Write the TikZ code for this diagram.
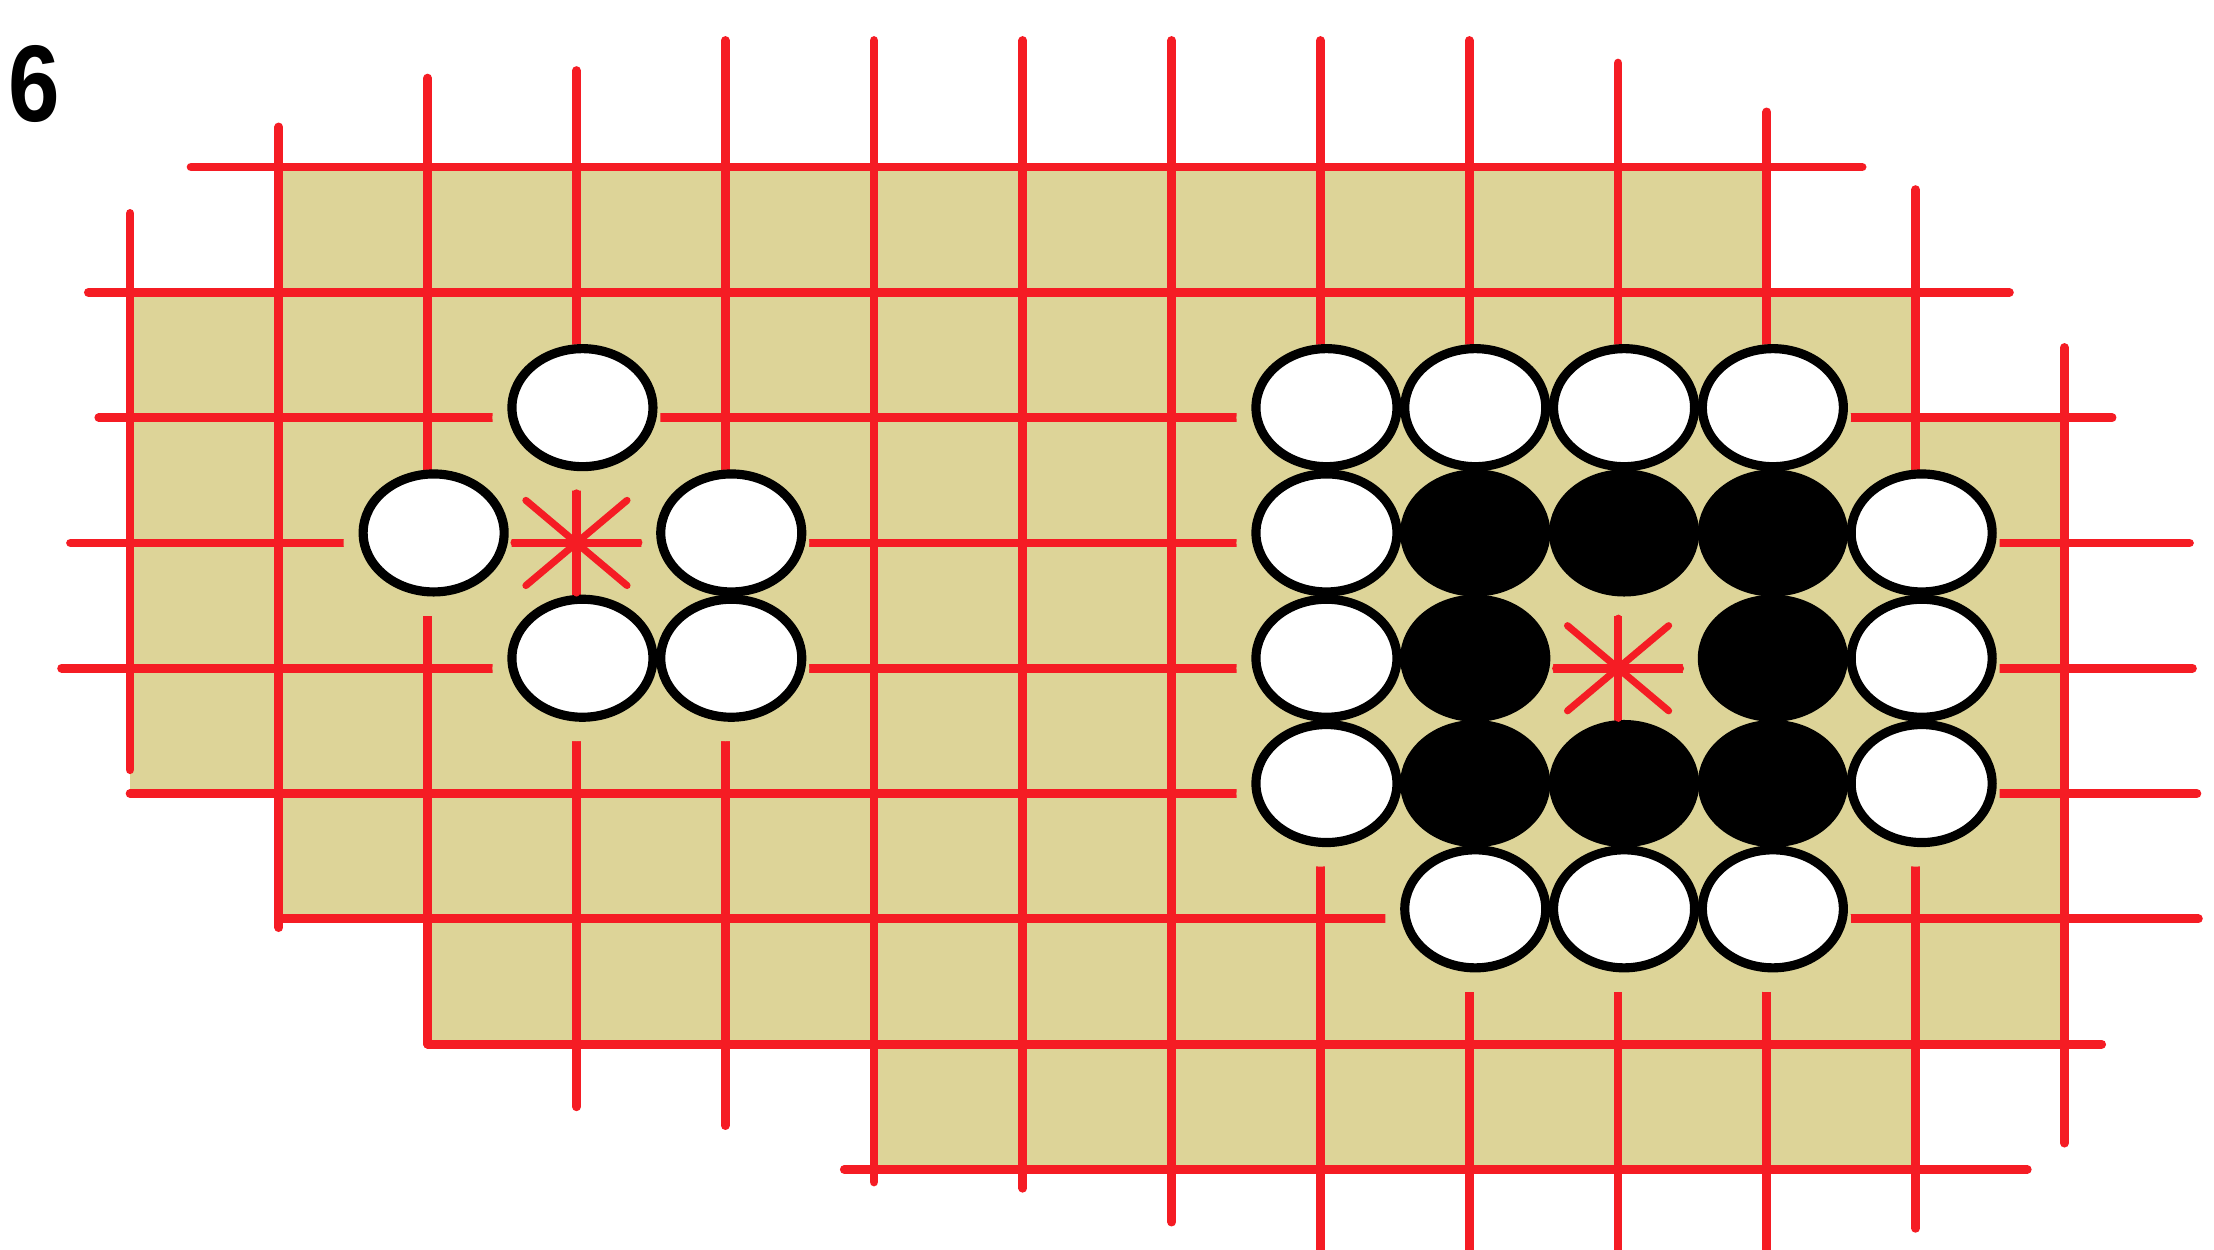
\documentclass[tikz,border=0pt]{standalone}
\usepackage{fontspec}
\setsansfont{Liberation Sans}
\usetikzlibrary{shapes.geometric}

\definecolor{boardtan}{RGB}{221,212,152}
\definecolor{gored}{RGB}{245,28,36}

\tikzset{
  gridline/.style={gored, line width=2.5pt, line cap=round},
  starline/.style={gored, line width=2pt, line cap=round},
  halo/.style={ellipse, fill=boardtan, minimum width=1.68cm, minimum height=1.46cm, inner sep=0pt},
  wstone/.style={ellipse, draw=black, line width=2.6pt, fill=white, minimum width=1.41cm, minimum height=1.18cm, inner sep=0pt, xshift=0.06cm, yshift=0.10cm},
  bstone/.style={wstone, fill=black},
}

\begin{document}
\begin{tikzpicture}[x=1.488cm, y=-1.253cm]
    \useasboundingbox (-0.874,-1.333) rectangle (14.005,8.635);
    % board
    \fill[boardtan] (1,0) -- (11,0) -- (11,1) -- (12,1) -- (12,2) -- (13,2) -- (13,7) -- (12,7) -- (12,8)
        -- (5,8) -- (5,7) -- (2,7) -- (2,6) -- (1,6) -- (1,5) -- (0,5) -- (0,1) -- (1,1) -- cycle;
    % vertical lines: column/top/bottom
    \foreach \c/\a/\b in {0/0.37/4.81, 1/-0.32/6.07, 2/-0.71/7.0, 3/-0.77/7.5, 4/-1.01/7.65,
        5/-1.01/8.1, 6/-1.01/8.15, 7/-1.01/8.42, 8/-1.01/8.7, 9/-1.01/8.7, 10/-0.83/8.7,
        11/-0.44/8.7, 12/0.18/8.47, 13/1.44/7.79}
        \draw[gridline] (\c,\a) -- (\c,\b);
    % horizontal lines: row/left/right
    \foreach \r/\a/\b in {0/0.41/11.64, 1/-0.28/12.63, 2/-0.21/13.32, 3/-0.40/13.84, 4/-0.46/13.86,
        5/0/13.89, 6/1/13.9, 7/2/13.25, 8/4.8/12.75}
        \draw[gridline] (\a,\r) -- (\b,\r);
    % gaps round the stones
    \foreach \c/\r in {3/2, 2/3, 4/3, 3/4, 4/4, 8/2, 9/2, 10/2, 11/2, 8/3, 8/4, 8/5, 12/3, 12/4, 12/5,
        9/6, 10/6, 11/6, 9/3, 10/3, 11/3, 9/4, 11/4, 9/5, 10/5, 11/5}
        \node[halo] (h-\c-\r) at (\c,\r) {};
    % white stones
    \foreach \c/\r in {3/2, 2/3, 4/3, 3/4, 4/4, 8/2, 9/2, 10/2, 11/2, 8/3, 8/4, 8/5, 12/3, 12/4, 12/5,
        9/6, 10/6, 11/6}
        \node[wstone] (w-\c-\r) at (\c,\r) {};
    % black stones
    \foreach \c/\r in {9/3, 10/3, 11/3, 9/4, 11/4, 9/5, 10/5, 11/5}
        \node[bstone] (b-\c-\r) at (\c,\r) {};
    % star marks
    \foreach \c/\r in {3/3, 10/4} {
        \draw[starline] (\c,\r) ++(-0.42,0) -- ++(0.84,0);
        \draw[starline] (\c,\r) ++(0,-0.40) -- ++(0,0.80);
        \draw[starline] (\c,\r) ++(-0.34,-0.34) -- ++(0.68,0.68);
        \draw[starline] (\c,\r) ++(-0.34,0.34) -- ++(0.68,-0.68);
        \fill[gored] (\c,\r) circle[radius=0.08cm];
    }
    \node[font=\sffamily\bfseries\fontsize{31}{31}\selectfont, xscale=0.85, transform shape, inner sep=0pt]
        (num) at (-0.645,-0.66) {6};
\end{tikzpicture}
\end{document}
